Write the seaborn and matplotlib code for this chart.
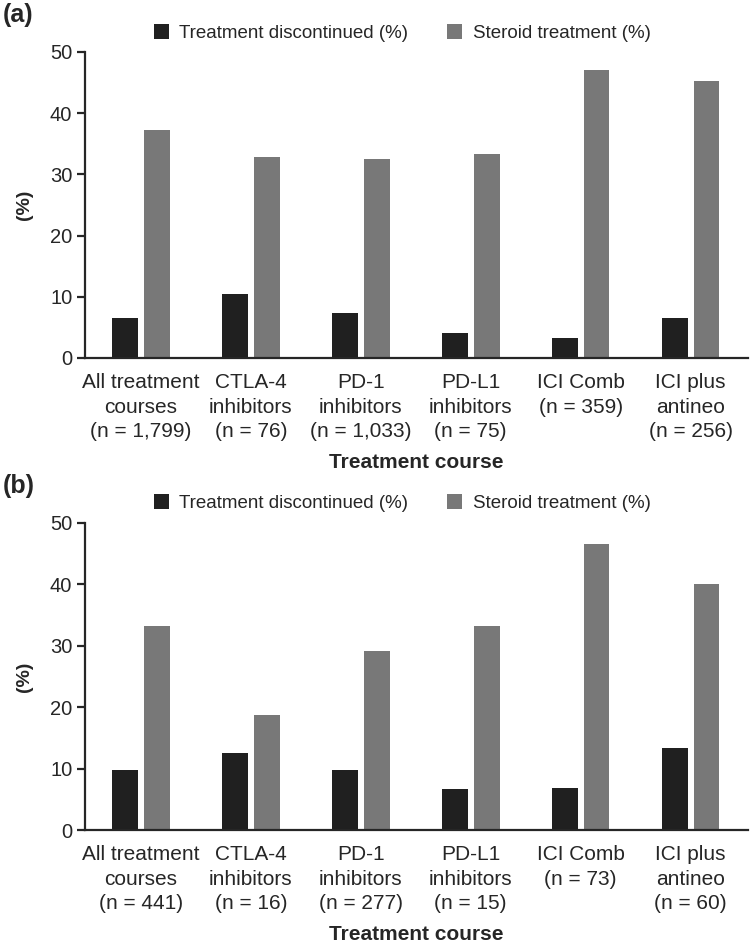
# -*- coding: utf-8 -*-
"""
Treatment discontinuation and steroid use by treatment course, two panels.
"""

# %% Import packages

import pandas as pd
import matplotlib.pyplot as plt
import seaborn as sns

# %% Set-up

sns.set_style('ticks')
plt.rcParams['font.family'] = ['Liberation Sans', 'DejaVu Sans']
plt.rcParams['axes.linewidth'] = 1.6
plt.rcParams['ytick.major.width'] = 1.6

# %% Data

courses = ['All treatment\ncourses', 'CTLA-4\ninhibitors', 'PD-1\ninhibitors',
           'PD-L1\ninhibitors', 'ICI Comb', 'ICI plus\nantineo']
nA = ['(n = 1,799)', '(n = 76)', '(n = 1,033)', '(n = 75)', '(n = 359)', '(n = 256)']
nB = ['(n = 441)', '(n = 16)', '(n = 277)', '(n = 15)', '(n = 73)', '(n = 60)']

discA = [6.5, 10.5, 7.3, 4.0, 3.3, 6.6]
steroidA = [37.2, 32.9, 32.5, 33.3, 47.1, 45.3]
discB = [9.8, 12.5, 9.7, 6.7, 6.8, 13.3]
steroidB = [33.3, 18.8, 29.2, 33.3, 46.6, 40.0]

seriesNames = ['Treatment discontinued (%)', 'Steroid treatment (%)']
barColours = ['#202020', '#787878']

# %% Build long-form tables

def makeTable(disc, steroid):
    return pd.DataFrame({
        'course': courses * 2,
        'series': [seriesNames[0]] * 6 + [seriesNames[1]] * 6,
        'value': disc + steroid})

panels = [('(a)', makeTable(discA, steroidA), nA),
          ('(b)', makeTable(discB, steroidB), nB)]

# %% Plot

fig = plt.figure(figsize = (7.5, 9.5), dpi = 100)

axPos = [[0.113, 0.6232, 0.884, 0.3221],
         [0.113, 0.1263, 0.884, 0.3232]]

for ii, (panelLab, df, nLabs) in enumerate(panels):
    ax = fig.add_axes(axPos[ii])

    sns.barplot(data = df, x = 'course', y = 'value', hue = 'series',
                order = courses, hue_order = seriesNames,
                palette = barColours, width = 0.58, gap = 0.19,
                saturation = 1, linewidth = 0, ax = ax)

    #Axes limits and ticks
    ax.set_ylim([0, 50])
    ax.set_yticks([0, 10, 20, 30, 40, 50])
    ax.set_xlim([-0.51, 5.52])
    ax.tick_params(axis = 'y', length = 6, labelsize = 14.5, pad = 3)
    ax.tick_params(axis = 'x', length = 0, labelsize = 15, pad = 11)
    ax.set_xticks(range(len(courses)))
    ax.set_xticklabels([c + '\n' + n for c, n in zip(courses, nLabs)],
                       linespacing = 1.36)

    #Spines
    ax.spines['top'].set_visible(False)
    ax.spines['right'].set_visible(False)

    #Labels
    ax.set_ylabel('(%)', fontsize = 14, fontweight = 'bold', labelpad = 12)
    ax.set_xlabel('Treatment course', fontsize = 15, fontweight = 'bold')
    ax.xaxis.set_label_coords(0.5, -0.31)

    #Legend on top
    handles, labels = ax.get_legend_handles_labels()
    ax.get_legend().remove()
    legY = 1 - (33 if ii == 0 else 503) / 950
    ax.legend(handles, labels, loc = 'center',
              bbox_to_anchor = (402 / 750, legY),
              bbox_transform = fig.transFigure,
              ncol = 2, frameon = False, fontsize = 13.5,
              handlelength = 0.8, handleheight = 0.8,
              handletextpad = 0.55, columnspacing = 2.1)

    #Panel label
    labY = 1 - (15 if ii == 0 else 486) / 950
    fig.text(0.003, labY, panelLab, fontsize = 18, fontweight = 'bold',
             ha = 'left', va = 'center')

#Save figure
fig.savefig('out.png', dpi = 100, facecolor = 'white')
